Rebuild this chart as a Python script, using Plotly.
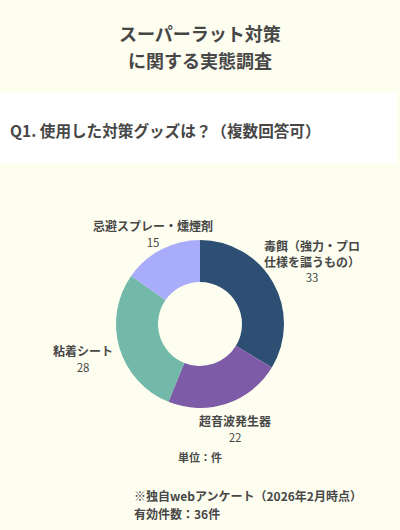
import math
import plotly.graph_objects as go

# ---- data ----
categories = ["毒餌（強力・プロ<br>仕様を謳うもの）", "超音波発生器", "粘着シート", "忌避スプレー・燻煙剤"]
values = [33, 22, 28, 15]
colors = ["#2d4f74", "#7e5ba7", "#72b9a9", "#a9acfb"]
label_dist = [128, 110, 122, 102]  # px from pie centre to label block centre

W, H = 400, 530
CX, CY, R = 200, 324, 84
FONT = "Noto Sans CJK JP"
TXT = "#474747"
BG = "#fefef0"

fig = go.Figure(go.Pie(
    labels=[c.replace("<br>", "") for c in categories],
    values=values,
    marker=dict(colors=colors, line=dict(width=0)),
    hole=0.5,
    sort=False,
    direction="clockwise",
    rotation=0,
    textinfo="none",
    hoverinfo="label+value",
    domain=dict(x=[(CX - R) / W, (CX + R) / W],
                y=[(H - CY - R) / H, (H - CY + R) / H]),
    showlegend=False,
))

def px(x):
    return x / W

def py(y):
    return 1 - y / H

annotations = []
total = sum(values)
cum = 0
for lab, v, d in zip(categories, values, label_dist):
    th = (cum + v / 2) / total * 2 * math.pi
    cum += v
    x = CX + d * math.sin(th)
    y = CY - d * math.cos(th)
    annotations.append(dict(
        x=px(x), y=py(y), xref="paper", yref="paper",
        xanchor="center", yanchor="middle", showarrow=False,
        text=f"<b>{lab}</b><br><span style='font-size:11.5px'>{v}</span>",
        font=dict(family=FONT, size=12, color=TXT), align="center",
    ))

# titles
annotations += [
    dict(x=px(200), y=py(33), text="<b>スーパーラット対策</b>",
         font=dict(family=FONT, size=18, color=TXT)),
    dict(x=px(200), y=py(60), text="<b>に関する実態調査</b>",
         font=dict(family=FONT, size=18, color=TXT)),
    dict(x=px(8), y=py(130), xanchor="left",
         text="<b>Q1. 使用した対策グッズは？（複数回答可）</b>",
         font=dict(family=FONT, size=15.6, color=TXT)),
    dict(x=px(200), y=py(457), text="<b>単位：件</b>",
         font=dict(family=FONT, size=11, color=TXT)),
    dict(x=px(132), y=py(495.5), xanchor="left",
         text="<b>※独自webアンケート（2026年2月時点）</b>",
         font=dict(family=FONT, size=12, color=TXT)),
    dict(x=px(132), y=py(513.5), xanchor="left",
         text="<b>有効件数：36件</b>",
         font=dict(family=FONT, size=12, color=TXT)),
]
for a in annotations[-6:]:
    a.setdefault("xanchor", "center")
    a.update(xref="paper", yref="paper", yanchor="middle", showarrow=False)

fig.update_layout(
    width=W, height=H,
    margin=dict(l=0, r=0, t=0, b=0),
    paper_bgcolor=BG, plot_bgcolor=BG,
    annotations=annotations,
    shapes=[dict(type="rect", xref="paper", yref="paper",
                 x0=0, x1=px(397), y0=py(163), y1=py(93),
                 fillcolor="#ffffff", line=dict(width=0), layer="below")],
)

fig.write_html(
    "out.html",
    config={"displayModeBar": False},
    post_script="document.body.style.margin='0';document.body.style.overflow='hidden';document.body.style.background='#fefef0';",
)
